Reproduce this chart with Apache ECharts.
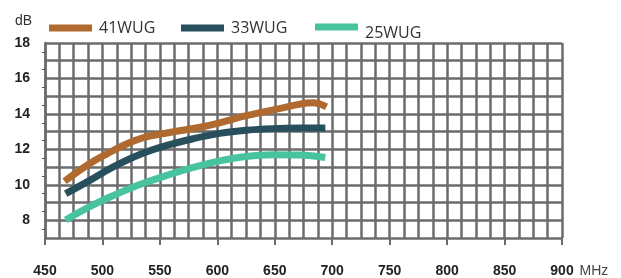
<!DOCTYPE html>
<html>
<head>
<meta charset="utf-8">
<script src="https://cdn.jsdelivr.net/npm/echarts@6/dist/echarts.min.js"></script>
<style>
  html, body { margin: 0; padding: 0; background: #fff; }
  #chart { width: 621px; height: 278px; }
</style>
</head>
<body>
<div id="chart"></div>
<script>
// gain curves, [MHz, dB]
var gain41 = [[467, 10.2], [489, 11.2], [504, 11.75], [521, 12.3], [535, 12.65], [550, 12.86],
  [567, 13.05], [585, 13.25], [602, 13.5], [619, 13.8], [637, 14.07], [654, 14.3],
  [671, 14.54], [683, 14.63], [695, 14.4]];
var gain33 = [[468, 9.5], [489, 10.25], [509, 11.0], [532, 11.7], [556, 12.22], [579, 12.6],
  [602, 12.9], [625, 13.08], [648, 13.17], [672, 13.2], [694, 13.2]];
var gain25 = [[468, 8.02], [489, 8.77], [509, 9.38], [532, 10.0], [556, 10.53], [579, 10.98],
  [602, 11.35], [625, 11.6], [648, 11.7], [672, 11.68], [694, 11.54]];

var seriesNames = ['41WUG', '33WUG', '25WUG'];
var seriesColors = ['#b06a2f', '#27505c', '#48c3a0'];
var xTicks = [450, 500, 550, 600, 650, 700, 750, 800, 850, 900];
var yTicks = [8, 10, 12, 14, 16, 18];

var chart = echarts.init(document.getElementById('chart'));
var gridColor = '#6c6c6c';
var legendLeft = [44, 176, 310];
var legendTop = [15, 15, 14];
// the last legend label sits a bit lower in the original
var legendLow = [false, false, true];

chart.setOption({
  animation: false,
  grid: { left: 45, top: 43, width: 517, height: 197 },
  legend: seriesNames.map(function (n, i) {
    return {
      data: [n],
      left: legendLeft[i],
      top: legendTop[i],
      icon: 'rect',
      itemWidth: 43,
      itemHeight: 7,
      selectedMode: false,
      formatter: legendLow[i] ? '{s|}{t|{name}}' : '{t|{name}}',
      textStyle: {
        fontFamily: 'Open Sans',
        fontSize: 16,
        color: '#333',
        rich: {
          s: { width: 0, height: 28 },
          t: { fontFamily: 'Open Sans', fontSize: 16, color: '#333', verticalAlign: 'bottom', padding: [0, 0, 0, 2] }
        }
      }
    };
  }),
  xAxis: [
    {
      type: 'value', min: 450, max: 900, interval: 12.5,
      axisLine: { show: false }, axisTick: { show: false }, axisLabel: { show: false },
      splitLine: { show: true, lineStyle: { color: gridColor, width: 2.5 } }
    },
    {
      type: 'value', min: 450, max: 900, interval: 50, position: 'bottom',
      axisLine: { show: false },
      axisTick: { show: true, length: 7, lineStyle: { color: gridColor, width: 2 } },
      axisLabel: {
        margin: 26, fontFamily: 'Liberation Sans', fontWeight: 'bold', fontSize: 14, color: '#222',
        formatter: function (v) { return xTicks.indexOf(v) >= 0 ? String(v) : ''; }
      },
      splitLine: { show: false },
      name: 'MHz', nameLocation: 'end', nameGap: 8,
      nameTextStyle: {
        fontFamily: 'Liberation Sans', fontSize: 14, color: '#444',
        verticalAlign: 'top', align: 'left', padding: [26, 0, 0, 0]
      }
    }
  ],
  yAxis: {
    type: 'value', min: 7, max: 18, interval: 1,
    axisLine: { show: true, lineStyle: { color: gridColor, width: 2.5 } },
    axisTick: { show: false },
    minorTick: { show: true, splitNumber: 2, length: 3, lineStyle: { color: '#555', width: 1 } },
    axisLabel: {
      margin: 15, fontFamily: 'Liberation Sans', fontWeight: 'bold', fontSize: 14, color: '#222',
      formatter: function (v) { return yTicks.indexOf(v) >= 0 ? String(v) : ''; }
    },
    splitLine: { show: true, lineStyle: { color: gridColor, width: 2.5 } },
    name: 'dB', nameLocation: 'end', nameGap: 15,
    nameTextStyle: {
      fontFamily: 'Liberation Sans', fontSize: 14, color: '#333',
      align: 'right', padding: [0, 13, 0, 0]
    }
  },
  series: [gain41, gain33, gain25].map(function (d, i) {
    return {
      name: seriesNames[i],
      type: 'line',
      xAxisIndex: 0,
      smooth: 0.4,
      showSymbol: false,
      data: d,
      itemStyle: { color: seriesColors[i] },
      lineStyle: { color: seriesColors[i], width: 7 }
    };
  })
});
</script>
</body>
</html>
